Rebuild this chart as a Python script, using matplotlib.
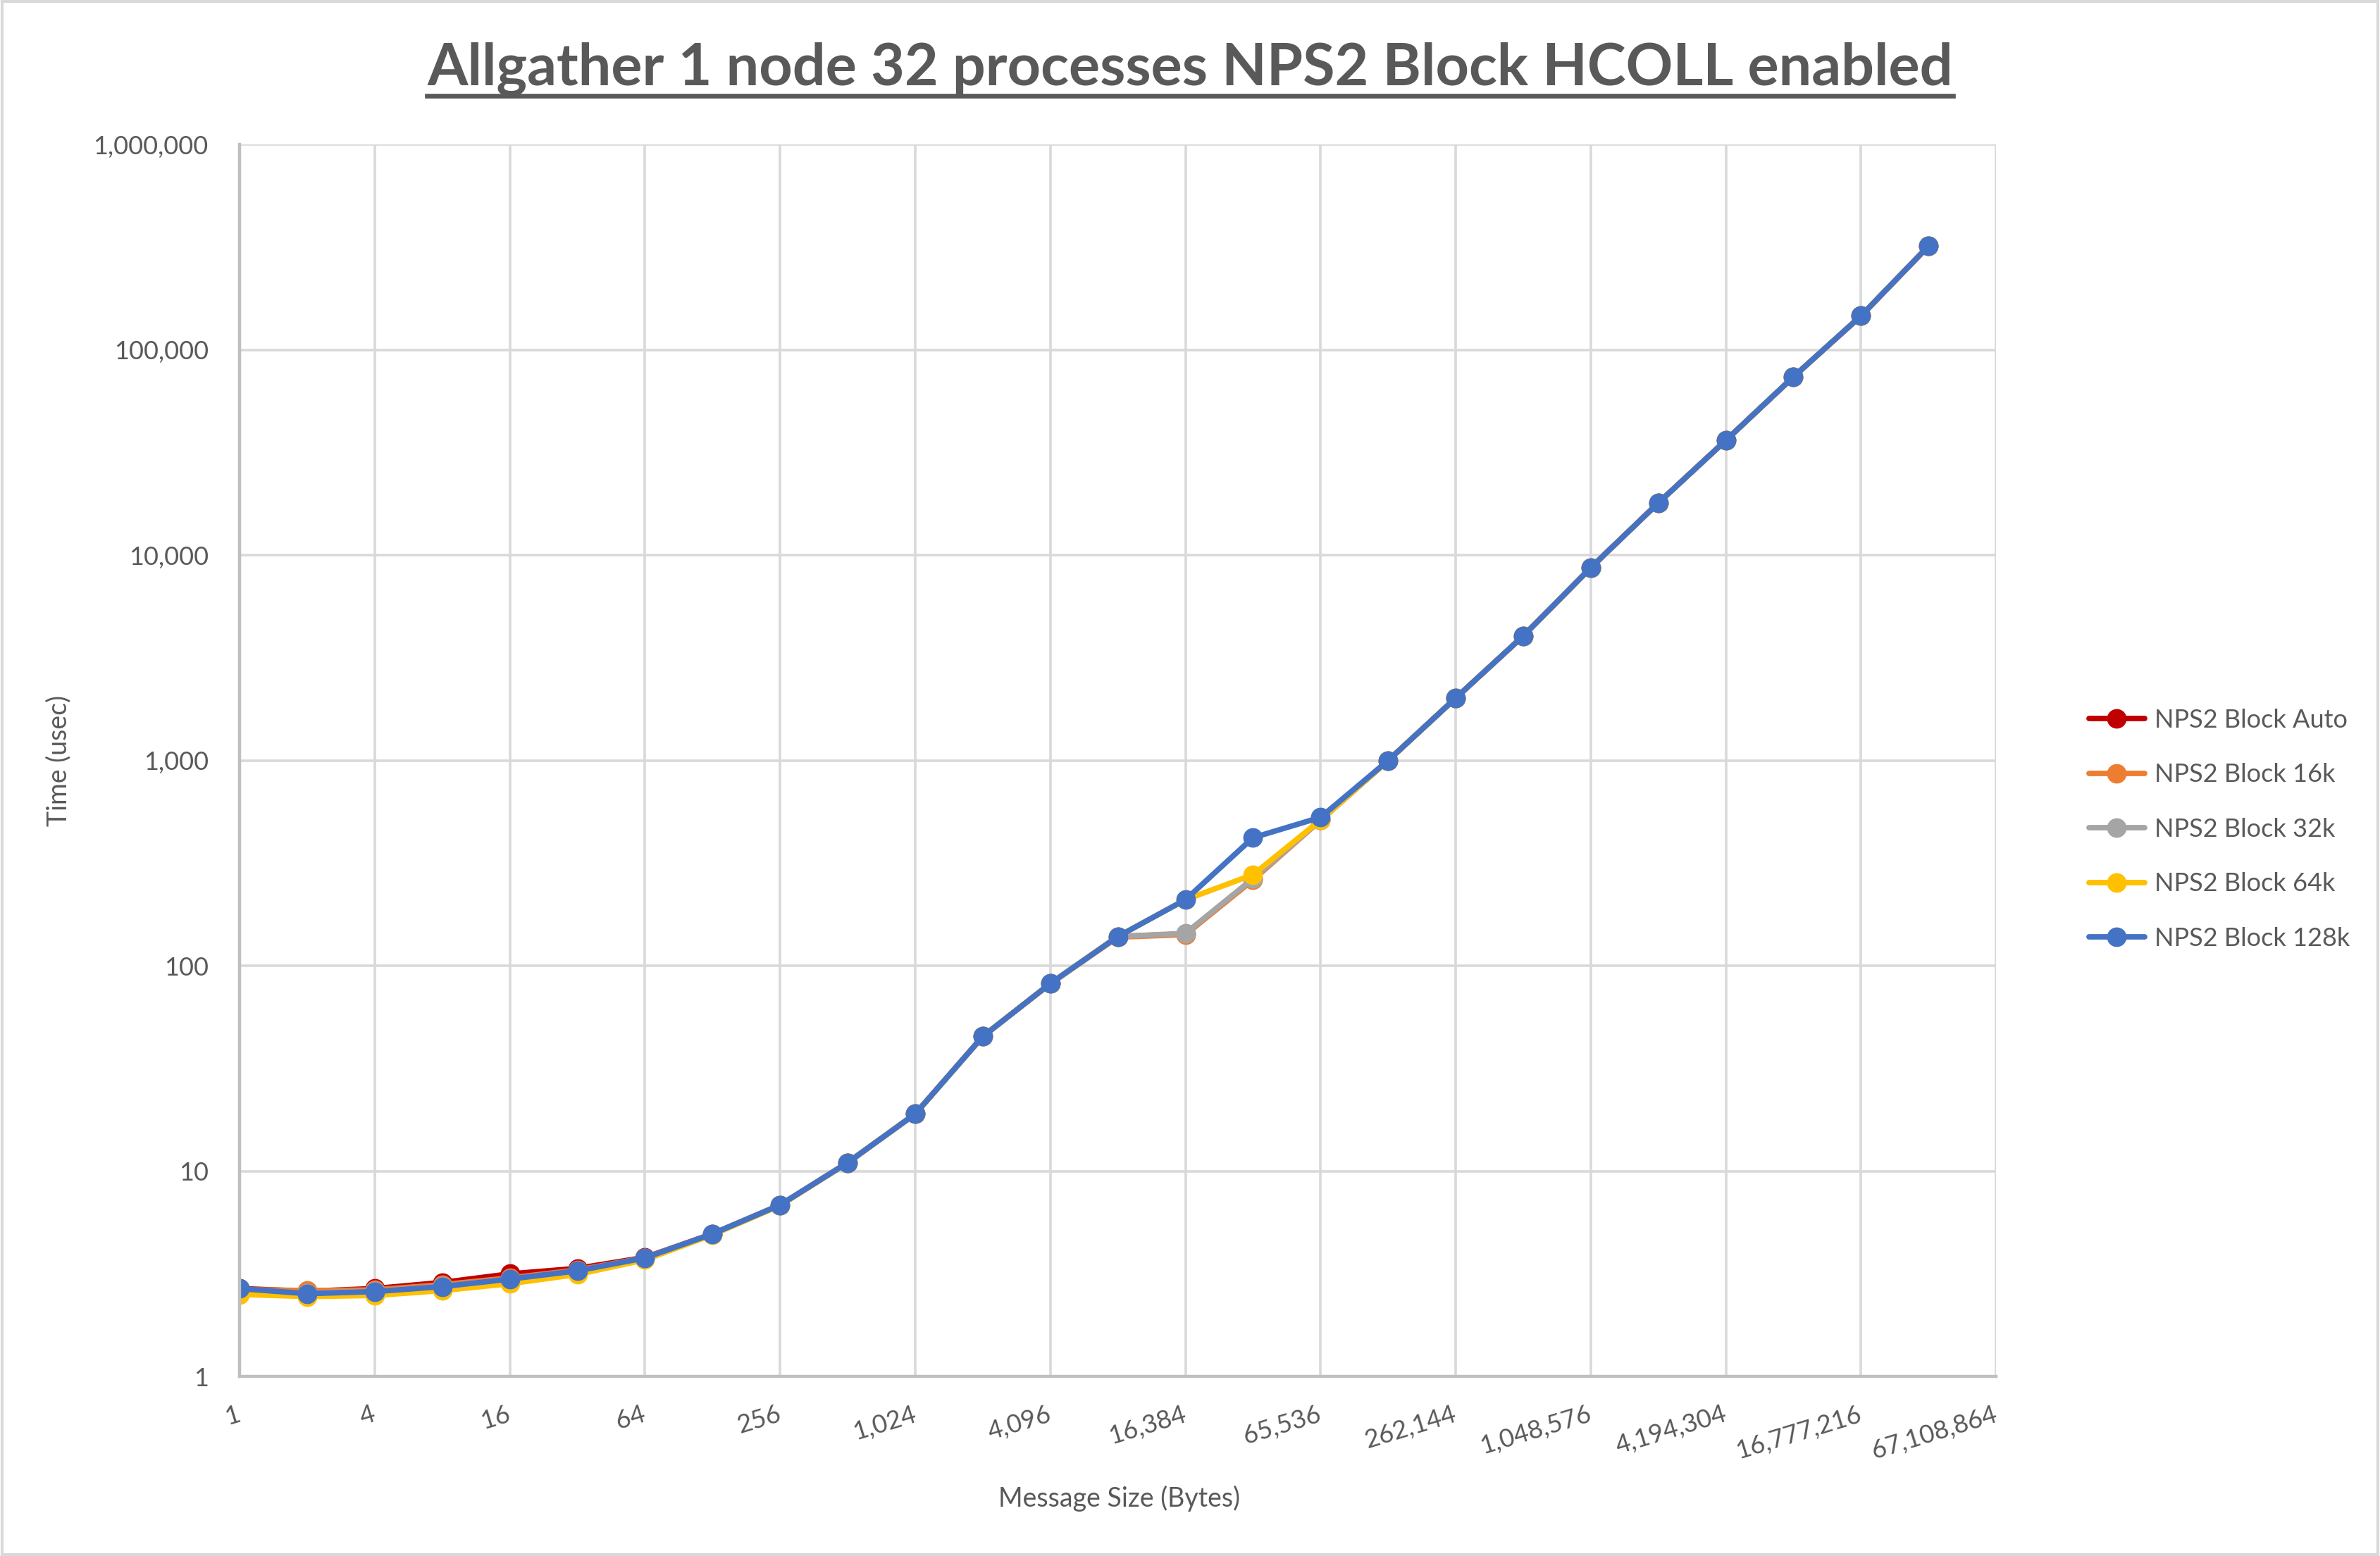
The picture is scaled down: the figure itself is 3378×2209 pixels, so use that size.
import matplotlib
matplotlib.use('Agg')
import matplotlib.pyplot as plt
from matplotlib.lines import Line2D
from matplotlib.patches import Rectangle
from matplotlib.ticker import FixedLocator, FuncFormatter, NullLocator

plt.rcParams['font.family'] = ['Lato', 'DejaVu Sans']

# message sizes (bytes)
sizes = [1, 2, 4, 8, 16, 32, 64, 128, 256, 512, 1024, 2048, 4096, 8192,
         16384, 32768, 65536, 131072, 262144, 524288, 1048576, 2097152,
         4194304, 8388608, 16777216, 33554432]

# time (usec)
auto_t = [2.68, 2.60, 2.68, 2.87, 3.16, 3.36, 3.80, 4.95, 6.84, 11.0, 19.0, 45.3, 82,
          139, 143, 265, 515, 1000, 2015, 4045, 8700, 18000, 36300, 74000, 146600, 321000]
b16k_t = [2.65, 2.62, 2.64, 2.80, 3.02, 3.30, 3.78, 4.95, 6.84, 11.0, 19.0, 45.3, 82,
          138, 142, 262, 512, 1000, 2015, 4045, 8700, 18000, 36300, 74000, 146600, 321000]
b32k_t = [2.62, 2.55, 2.60, 2.75, 2.98, 3.27, 3.78, 4.95, 6.84, 11.0, 19.0, 45.3, 82,
          139, 144, 266, 512, 1000, 2015, 4045, 8700, 18000, 36300, 74000, 146600, 321000]
b64k_t = [2.51, 2.45, 2.48, 2.62, 2.83, 3.14, 3.70, 4.90, 6.80, 11.0, 19.0, 45.3, 82,
          139, 210, 278, 513, 1000, 2015, 4045, 8700, 18000, 36300, 74000, 146600, 321000]
b128k_t = [2.68, 2.53, 2.59, 2.74, 2.98, 3.27, 3.78, 4.95, 6.84, 11.0, 19.0, 45.3, 82,
           139, 210, 421, 529, 1000, 2015, 4045, 8700, 18000, 36300, 74000, 146600, 321000]

labels = ['NPS2 Block Auto', 'NPS2 Block 16k', 'NPS2 Block 32k', 'NPS2 Block 64k', 'NPS2 Block 128k']
colors = ['#C00000', '#ED7D31', '#A5A5A5', '#FFC000', '#4472C4']
series = [auto_t, b16k_t, b32k_t, b64k_t, b128k_t]

xticks = [1, 4, 16, 64, 256, 1024, 4096, 16384, 65536, 262144, 1048576,
          4194304, 16777216, 67108864]
yticks = [1, 10, 100, 1000, 10000, 100000, 1000000]

txt = '#595959'

fig = plt.figure(figsize=(16.89, 11.045), dpi=200)
ax = fig.add_axes([0.1007, 0.1154, 0.738, 0.7916])

for y, c, lab in zip(series, colors, labels):
    ax.plot(sizes, y, color=c, lw=2.8, marker='o', ms=9, label=lab,
            solid_capstyle='round', solid_joinstyle='round')

ax.set_xscale('log', base=2)
ax.set_yscale('log')
ax.set_xlim(1, 67108864)
ax.set_ylim(1, 1000000)

ax.xaxis.set_major_locator(FixedLocator(xticks))
ax.xaxis.set_minor_locator(NullLocator())
ax.yaxis.set_major_locator(FixedLocator(yticks))
ax.yaxis.set_minor_locator(NullLocator())
fmt = FuncFormatter(lambda v, p: '{:,}'.format(int(round(v))))
ax.xaxis.set_major_formatter(fmt)
ax.yaxis.set_major_formatter(fmt)

ax.grid(True, color='#D9D9D9', lw=1.3)
ax.set_axisbelow(True)
for s in ['top', 'right']:
    ax.spines[s].set_visible(False)
for s in ['left', 'bottom']:
    ax.spines[s].set_color('#BFBFBF')
    ax.spines[s].set_linewidth(1.6)

ax.tick_params(axis='both', length=0, colors=txt, labelsize=13)
ax.tick_params(axis='y', pad=16)
ax.tick_params(axis='x', pad=19)
for t in ax.get_xticklabels():
    t.set_rotation(17)
    t.set_ha('right')
    t.set_va('center')
    t.set_rotation_mode('anchor')

ax.set_xlabel('Message Size (Bytes)', fontsize=13.5, color=txt)
ax.set_ylabel('Time (usec)', fontsize=13.5, color=txt)
ax.xaxis.set_label_coords(0.5006, -0.0887)
ax.yaxis.set_label_coords(-0.096, 0.5)

leg = fig.legend(loc='center left', bbox_to_anchor=(0.868, 0.467), frameon=False,
                 fontsize=13, labelspacing=1.23, handlelength=2.2, handletextpad=0.4)
for t in leg.get_texts():
    t.set_color(txt)

title = fig.text(0.5, 0.956, 'Allgather 1 node 32 processes NPS2 Block HCOLL enabled',
                 ha='center', va='center', fontsize=29.8, fontweight='bold', color=txt)

# underline under title
fig.canvas.draw()
bb = title.get_window_extent(fig.canvas.get_renderer()).transformed(fig.transFigure.inverted())
fig.add_artist(Line2D([bb.x0, bb.x1], [0.9384, 0.9384], color=txt, lw=2.4,
                      transform=fig.transFigure))

# chart border
fig.add_artist(Rectangle((0.001, 0.001), 0.998, 0.998, transform=fig.transFigure,
                         fill=False, edgecolor='#D9D9D9', lw=1.5))

fig.savefig('out.png', dpi=200, facecolor='white')
